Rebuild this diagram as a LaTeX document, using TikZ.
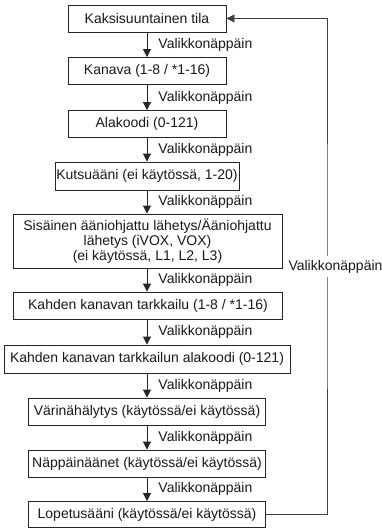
\documentclass[tikz,border=0pt]{standalone}
\usepackage{fontspec}
\setmainfont{Liberation Sans}
\usetikzlibrary{arrows.meta}
\tikzset{
  box/.style={draw=black!85, line width=0.9pt, fill=white, inner sep=0pt,
    minimum height=27pt, align=center, text=black!90,
    font=\fontsize{14}{14.6}\selectfont},
  arr/.style={draw=black!85, line width=0.9pt, -{Triangle[length=8pt,width=8pt]}},
  lbl/.style={inner sep=0pt, anchor=west, xshift=11pt, text=black!90,
    font=\fontsize{14}{15}\selectfont},
  fbline/.style={draw=black!75, line width=0.9pt, -{Triangle[length=8pt,width=8pt]}}
}
\begin{document}
\begin{tikzpicture}[x=1pt,y=-1pt]
\useasboundingbox (0,0) rectangle (382,528);
\fill[white] (0,0) rectangle (382,528);
\node[box, minimum width=158pt] (b1) at (147,18.5) {Kaksisuuntainen tila};
\node[box, minimum width=158pt] (b2) at (147,71) {Kanava (1-8 / *1-16)};
\node[box, minimum width=158pt] (b3) at (147,124) {Alakoodi (0-121)};
\node[box, minimum width=184pt, minimum height=28pt] (b4) at (147,176) {Kutsuääni (ei käytössä, 1-20)};
\node[box, minimum width=269pt, minimum height=54pt] (b5) at (147.5,241) {Sisäinen ääniohjattu lähetys/Ääniohjattu\\lähetys (iVOX, VOX)\\(ei käytössä, L1, L2, L3)};
\node[box, minimum width=269pt] (b6) at (148,305.5) {Kahden kanavan tarkkailu (1-8 / *1-16)};
\node[box, minimum width=286pt, minimum height=28pt] (b7) at (147,359) {Kahden kanavan tarkkailun alakoodi (0-121)};
\node[box, minimum width=237pt] (b8) at (147,411.5) {Värinähälytys (käytössä/ei käytössä)};
\node[box, minimum width=237pt] (b9) at (147,463.5) {Näppäinäänet (käytössä/ei käytössä)};
\node[box, minimum width=237pt, minimum height=26pt] (b10) at (147,514.5) {Lopetusääni (käytössä/ei käytössä)};

\draw[arr] (b1) -- (b2) node[midway, lbl] {Valikkonäppäin};
\draw[arr] (b2) -- (b3) node[midway, lbl] {Valikkonäppäin};
\draw[arr] (b3) -- (b4) node[midway, lbl] {Valikkonäppäin};
\draw[arr] (b4) -- (b4|-b5.north) node[midway, lbl] {Valikkonäppäin};
\draw[arr] (b4|-b5.south) -- (b4|-b6.north) node[midway, lbl] {Valikkonäppäin};
\draw[arr] (b4|-b6.south) -- (b7) node[midway, lbl] {Valikkonäppäin};
\draw[arr] (b7) -- (b8) node[midway, lbl] {Valikkonäppäin};
\draw[arr] (b8) -- (b9) node[midway, lbl] {Valikkonäppäin};
\draw[arr] (b9) -- (b10) node[midway, lbl] {Valikkonäppäin};

\coordinate (rc) at (327,266);
\draw[fbline] (b10.east) -| (rc) |- (b1.east);
\node[fill=white, inner sep=0pt, minimum height=21pt, text=black!90,
  font=\fontsize{14}{15}\selectfont] (fb) at (335.5,266.5) {Valikkonäppäin};
\end{tikzpicture}
\end{document}
